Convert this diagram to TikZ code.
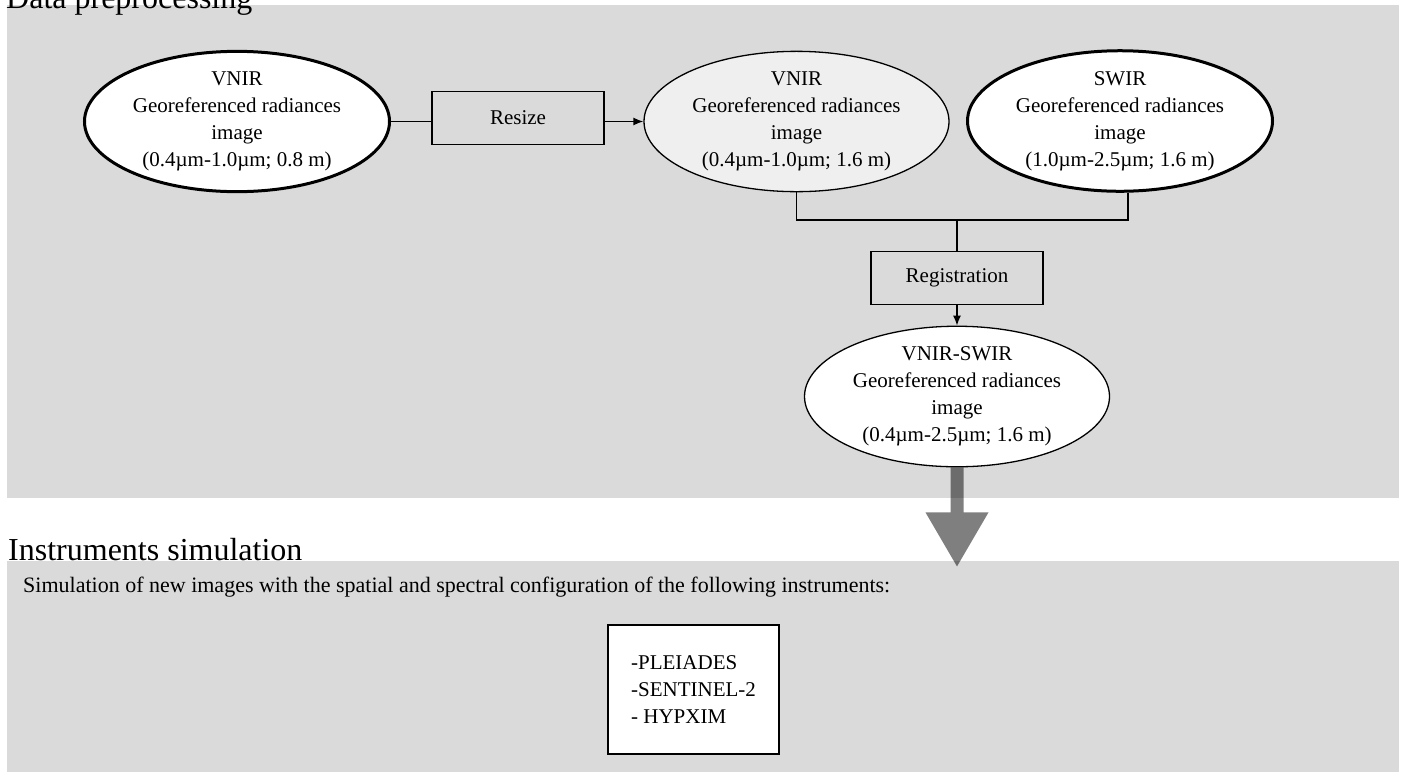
\documentclass[tikz,border=0pt]{standalone}
\usepackage{xcolor}
\usepackage{fontspec}
\setmainfont{Liberation Serif}
\usepackage{tikz}
\usetikzlibrary{arrows.meta, calc, shapes.geometric}

\definecolor{panelgray}{HTML}{DADADA}
\definecolor{lightfill}{HTML}{EFEFEF}

\begin{document}
\begin{tikzpicture}[x=1pt, y=-1pt,
  img/.style={ellipse, draw, fill=white, align=center, inner sep=0pt,
    minimum width=305pt, minimum height=136pt,
    font=\fontsize{21}{27}\selectfont},
  imgbold/.style={img, line width=3pt},
  proc/.style={draw, line width=1.4pt, minimum width=172pt, minimum height=53pt,
    inner sep=0pt, font=\fontsize{21}{27}\selectfont},
  link/.style={line width=1.4pt},
  arr/.style={link, -{Latex[length=10pt, width=8pt]}},
  bigarrow/.style={fill=black, fill opacity=0.5}
]
\useasboundingbox (0,0) rectangle (1405,772);

% Panels
\fill[panelgray] (7,5) rectangle (1399,498);
\fill[panelgray] (7,561) rectangle (1399,772);
\node[anchor=base west, inner sep=0pt, font=\fontsize{32}{36}\selectfont] (title1) at (6,8) {Data preprocessing};
\node[anchor=base west, inner sep=0pt, font=\fontsize{32}{36}\selectfont] (title2) at (8,560) {Instruments simulation};

% Images
\node[imgbold] (vnirhr) at (237,121.5) {VNIR\\Georeferenced radiances\\image\\(0.4µm-1.0µm; 0.8 m)};
\node[img, line width=1.3pt, fill=lightfill] (vnir) at (796.5,121.5) {VNIR\\Georeferenced radiances\\image\\(0.4µm-1.0µm; 1.6 m)};
\node[imgbold] (swir) at (1120,121) {SWIR\\Georeferenced radiances\\image\\(1.0µm-2.5µm; 1.6 m)};
\node[img, line width=1.3pt] (vnirswir) at (957,396.5) {VNIR-SWIR\\Georeferenced radiances\\image\\(0.4µm-2.5µm; 1.6 m)};

% Processing steps
\node[proc] (resize) at (518,118) {Resize};
\node[proc] (regist) at (957,278) {Registration};

% Connectors
\coordinate (join) at (957,220);
\coordinate (swirfoot) at ([xshift=8pt]swir.south);
\draw[link] (vnirhr.east) -- (vnirhr.east -| resize.west);
\draw[arr] (resize.east |- vnir.west) -- (vnir.west);
\draw[link] (vnir.south) |- (join) -| (swirfoot);
\draw[link] (join) -- (regist.north);
\draw[arr] (regist.south) -- (vnirswir.north);

% Big arrow
\fill[bigarrow] ([xshift=-6.5pt]vnirswir.south) -- ++(0,45) -- ++(-25,0) -- ++(31.5,54)
  -- ++(31.5,-54) -- ++(-25,0) -- ++(0,-45) -- cycle;

% Simulation
\node[anchor=base west, inner sep=0pt, font=\fontsize{22}{27}\selectfont] (simtext) at (23,592)
  {Simulation of new images with the spatial and spectral configuration of the following instruments:};
\node[draw, fill=white, line width=2pt, minimum width=171pt, minimum height=129pt,
  align=left, font=\fontsize{21}{27}\selectfont] (instr) at (693.5,689.5)
  {-PLEIADES\\-SENTINEL-2\\- HYPXIM};

\end{tikzpicture}
\end{document}
